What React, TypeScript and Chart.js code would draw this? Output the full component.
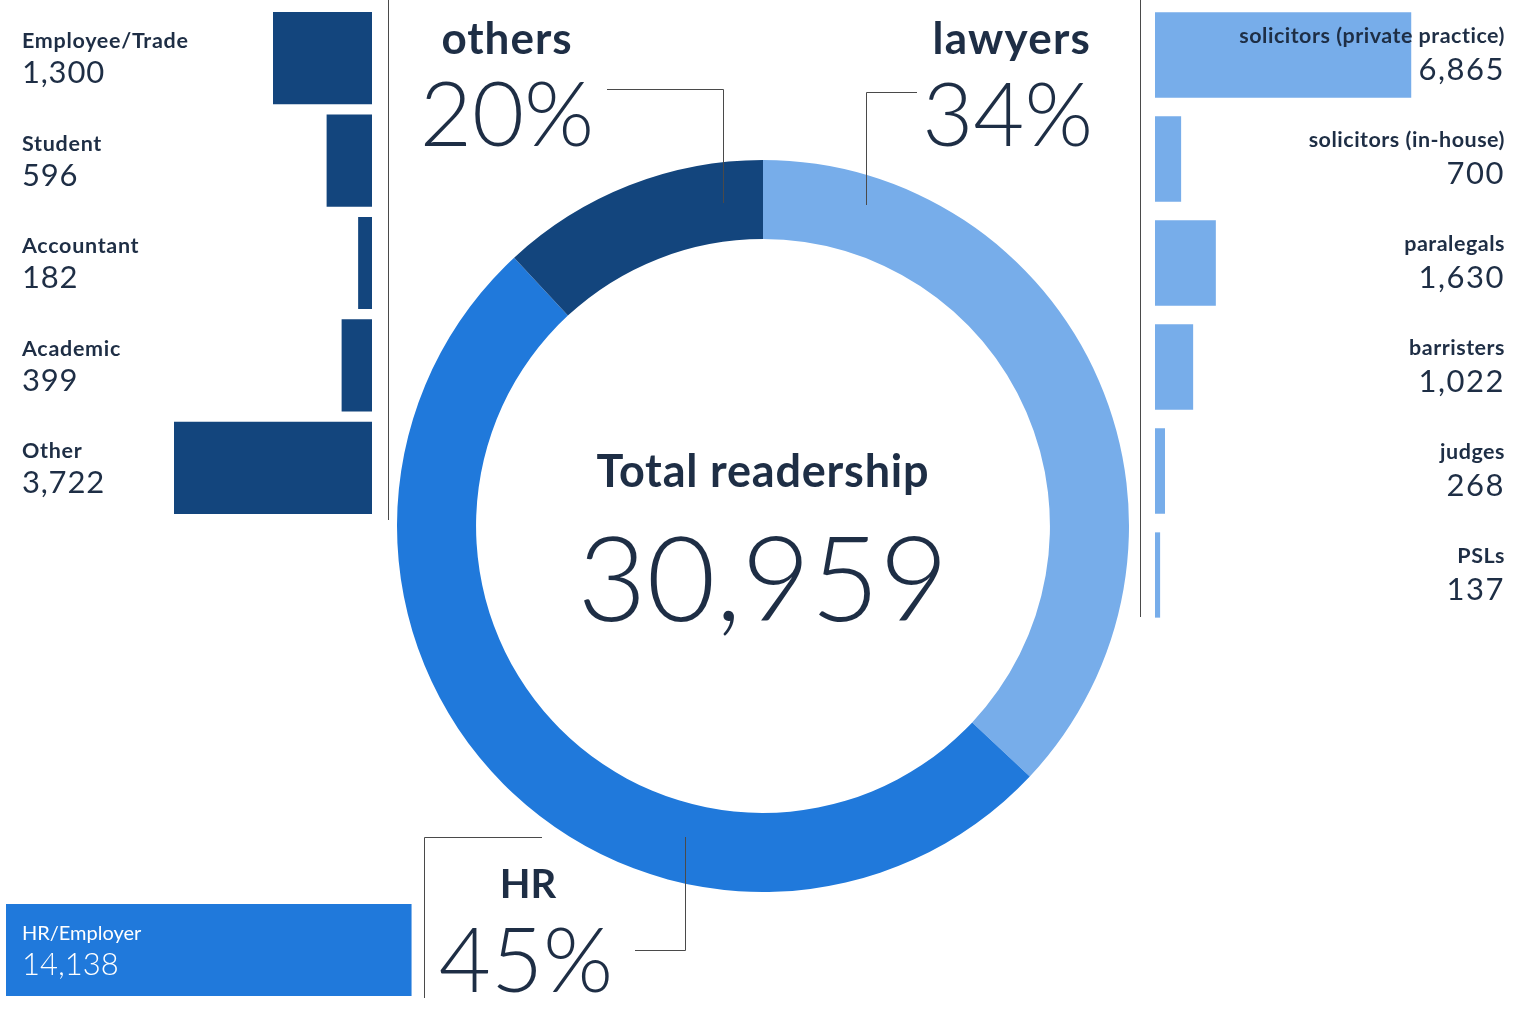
import React, { useEffect, useRef } from "react";
import { Chart, registerables } from "chart.js";
Chart.register(...registerables);

// ---- data ----
const othersCategories = ["Employee/Trade", "Student", "Accountant", "Academic", "Other"];
const othersValues = [1300, 596, 182, 399, 3722];
const lawyersCategories = [
  "solicitors (private practice)",
  "solicitors (in-house)",
  "paralegals",
  "barristers",
  "judges",
  "PSLs",
];
const lawyersValues = [6865, 700, 1630, 1022, 268, 137];
const hrCategories = ["HR/Employer"];
const hrValues = [14138];
const groupLabels = ["lawyers", "HR", "others"];
const groupPercentLabels = ["34%", "45%", "20%"];
// slice sizes as drawn in the reference ring (percent of circle)
const ringShares = [37.0, 51.1, 11.9];
const totalLabel = "Total readership";
const totalValue = 30959;

// ---- style ----
const C_DARK = "#13457D";
const C_LIGHT = "#77ADEA";
const C_HR = "#2079DB";
const C_TEXT = "#1E2E45";
const C_LINE = "#4a4a4a";
const FONT = "Lato, 'Open Sans', sans-serif";

const fmt = (v: number) => v.toLocaleString("en-US");

type BarProps = {
  left: number;
  top: number;
  width: number;
  height: number;
  labels: string[];
  values: number[];
  color: string;
  max: number;
  reverse?: boolean;
  barPct: number;
};

function BarPanel(p: BarProps) {
  const ref = useRef<HTMLCanvasElement | null>(null);
  useEffect(() => {
    if (!ref.current) return;
    const chart = new Chart(ref.current, {
      type: "bar",
      data: {
        labels: p.labels,
        datasets: [
          {
            data: p.values,
            backgroundColor: p.color,
            borderWidth: 0,
            barPercentage: p.barPct,
            categoryPercentage: 1,
          },
        ],
      },
      options: {
        indexAxis: "y",
        responsive: false,
        maintainAspectRatio: false,
        animation: false,
        devicePixelRatio: 1,
        layout: { padding: 0 },
        plugins: { legend: { display: false }, tooltip: { enabled: false } },
        scales: {
          x: { display: false, min: 0, max: p.max, reverse: !!p.reverse },
          y: { display: false },
        },
      },
    });
    return () => chart.destroy();
  }, []);
  return (
    <canvas
      ref={ref}
      width={p.width}
      height={p.height}
      style={{ position: "absolute", left: p.left, top: p.top, width: p.width, height: p.height }}
    />
  );
}

function Ring() {
  const ref = useRef<HTMLCanvasElement | null>(null);
  useEffect(() => {
    if (!ref.current) return;
    const chart = new Chart(ref.current, {
      type: "doughnut",
      data: {
        labels: groupLabels,
        datasets: [
          {
            data: ringShares,
            backgroundColor: [C_LIGHT, C_HR, C_DARK],
            borderWidth: 0,
          },
        ],
      },
      options: {
        responsive: false,
        maintainAspectRatio: false,
        animation: false,
        devicePixelRatio: 1,
        cutout: "78.4%",
        rotation: 0,
        layout: { padding: 0 },
        plugins: { legend: { display: false }, tooltip: { enabled: false } },
      },
    });
    return () => chart.destroy();
  }, []);
  const R = 366;
  return (
    <canvas
      ref={ref}
      width={2 * R}
      height={2 * R}
      style={{ position: "absolute", left: 763 - R, top: 526 - R, width: 2 * R, height: 2 * R }}
    />
  );
}

export default function App() {
  useEffect(() => {
    document.body.style.margin = "0";
  }, []);
  return (
    <div style={{ position: "absolute", left: 0, top: 0, width: 1523, height: 1011, background: "#fff", overflow: "hidden" }}>
      <Ring />
      <BarPanel left={174} top={7} width={198} height={512} labels={othersCategories} values={othersValues} color={C_DARK} max={2600} reverse barPct={0.9} />
      <BarPanel left={1155} top={3} width={265} height={624} labels={lawyersCategories} values={lawyersValues} color={C_LIGHT} max={7100} barPct={0.82} />
      <BarPanel left={6} top={904} width={407} height={92} labels={hrCategories} values={hrValues} color={C_HR} max={14200} barPct={1} />
      <svg width={1523} height={1011} style={{ position: "absolute", left: 0, top: 0, pointerEvents: "none" }} fontFamily={FONT}>
        {/* separators */}
        <line x1={388.5} y1={0} x2={388.5} y2={520} stroke={C_LINE} strokeWidth={1} />
        <line x1={1140.5} y1={0} x2={1140.5} y2={617} stroke={C_LINE} strokeWidth={1} />
        {/* leader lines */}
        <polyline points="607,89.5 723.5,89.5 723.5,203" fill="none" stroke={C_LINE} strokeWidth={1} />
        <polyline points="917,92.5 866.5,92.5 866.5,205" fill="none" stroke={C_LINE} strokeWidth={1} />
        <polyline points="542,837.5 424.5,837.5 424.5,998" fill="none" stroke={C_LINE} strokeWidth={1} />
        <polyline points="685.5,837 685.5,950.5 635,950.5" fill="none" stroke={C_LINE} strokeWidth={1} />

        {/* left labels */}
        {othersCategories.map((c, i) => (
          <g key={c}>
            <text x={22} y={48 + i * 102.5} fontSize={21.5} fontWeight={700} letterSpacing={0.7} fill={C_TEXT}>{c}</text>
            <text x={22} y={83 + i * 102.5} fontSize={31} fontWeight={400} letterSpacing={0.8} fill={C_TEXT}>{fmt(othersValues[i])}</text>
          </g>
        ))}
        {/* right labels */}
        {lawyersCategories.map((c, i) => (
          <g key={c}>
            <text x={1505} y={43 + i * 104} fontSize={21.5} fontWeight={700} letterSpacing={0.5} fill={C_TEXT} textAnchor="end">{c}</text>
            <text x={1505} y={80 + i * 104} fontSize={31} fontWeight={400} letterSpacing={1.5} fill={C_TEXT} textAnchor="end">{fmt(lawyersValues[i])}</text>
          </g>
        ))}
        {/* HR bar labels */}
        <text x={22} y={940} fontSize={20} fontWeight={400} fill="#fff">{hrCategories[0]}</text>
        <text x={22} y={975} fontSize={31} fontWeight={300} fill="#fff">{fmt(hrValues[0])}</text>

        {/* group labels */}
        <text x={507} y={54} fontSize={44} fontWeight={700} letterSpacing={1} fill={C_TEXT} textAnchor="middle">{groupLabels[2]}</text>
        <text x={507} y={146} fontSize={90} fontWeight={300} fill={C_TEXT} textAnchor="middle">{groupPercentLabels[2]}</text>
        <text x={1091} y={54} fontSize={44} fontWeight={700} letterSpacing={1.2} fill={C_TEXT} textAnchor="end">{groupLabels[0]}</text>
        <text x={1093} y={146} fontSize={88} fontWeight={300} fill={C_TEXT} textAnchor="end">{groupPercentLabels[0]}</text>
        <text x={528} y={898} fontSize={40} fontWeight={700} fill={C_TEXT} textAnchor="middle">{groupLabels[1]}</text>
        <text x={526} y={992} fontSize={90} fontWeight={300} fill={C_TEXT} textAnchor="middle">{groupPercentLabels[1]}</text>

        {/* center */}
        <text x={763} y={487} fontSize={45} fontWeight={700} letterSpacing={0.8} fill={C_TEXT} textAnchor="middle">{totalLabel}</text>
        <text x={763} y={621} fontSize={119} fontWeight={300} fill={C_TEXT} textAnchor="middle">{fmt(totalValue)}</text>
      </svg>
    </div>
  );
}
